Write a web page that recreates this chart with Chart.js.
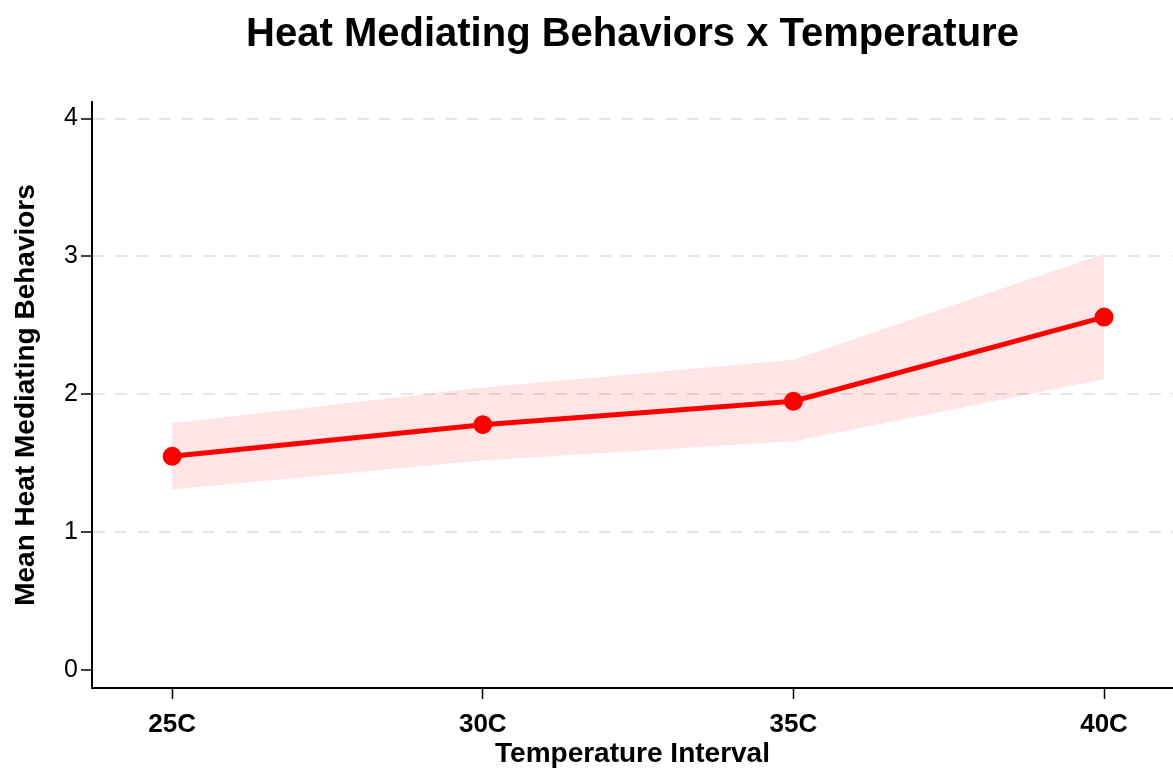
<!DOCTYPE html>
<html>
<head>
<meta charset="utf-8">
<script src="https://cdn.jsdelivr.net/npm/chart.js"></script>
<style>
  body { margin: 0; background: #fff; }
</style>
</head>
<body>
<canvas id="chart" width="1173" height="772"></canvas>
<script>
// data
const temps = [25, 30, 35, 40];
const meanBehaviors = [1.55, 1.78, 1.95, 2.56];
const upperCI = [1.79, 2.05, 2.25, 3.02];
const lowerCI = [1.31, 1.52, 1.66, 2.11];
const yTicks = [0, 1, 2, 3, 4];

const toPoints = arr => arr.map((v, i) => ({ x: temps[i], y: v }));
const sans = "'Liberation Sans', Arial, sans-serif";

const chart = new Chart(document.getElementById("chart"), {
  type: "line",
  data: {
    datasets: [
      {
        label: "Mean",
        data: toPoints(meanBehaviors),
        borderColor: "#ff0000",
        backgroundColor: "#ff0000",
        borderWidth: 5,
        pointRadius: 7,
        pointHoverRadius: 7,
        fill: false,
        order: 0,
      },
      {
        label: "Upper",
        data: toPoints(upperCI),
        borderWidth: 0,
        pointRadius: 0,
        backgroundColor: "rgba(255,0,0,0.1)",
        fill: "+1",
        order: 1,
      },
      {
        label: "Lower",
        data: toPoints(lowerCI),
        borderWidth: 0,
        pointRadius: 0,
        fill: false,
        order: 2,
      },
    ],
  },
  options: {
    responsive: false,
    animation: false,
    devicePixelRatio: 1,
    layout: { padding: 0, autoPadding: false },
    plugins: {
      legend: { display: false },
      tooltip: { enabled: false },
      title: {
        display: true,
        text: "Heat Mediating Behaviors x Temperature",
        color: "#000",
        fullSize: false,
        font: { family: sans, size: 40, weight: "bold" },
        padding: { top: 11, bottom: 43 },
      },
    },
    scales: {
      x: {
        type: "linear",
        min: 23.71,
        max: 41.11,
        afterBuildTicks: scale => {
          scale.ticks = temps.map(v => ({ value: v }));
        },
        afterFit: scale => {
          scale.height = 84;
          scale.paddingLeft = 0;
          scale.paddingRight = 0;
        },
        ticks: {
          color: "#000",
          font: { family: sans, size: 26, weight: "bold" },
          padding: 10,
          maxRotation: 0,
          callback: v => v + "C",
        },
        grid: {
          drawOnChartArea: false,
          drawTicks: true,
          tickLength: 11,
          tickColor: "#000",
          tickWidth: 1.5,
        },
        border: { display: true, color: "#000", width: 2 },
        title: {
          display: true,
          text: "Temperature Interval",
          color: "#000",
          font: { family: sans, size: 28, weight: "bold" },
          padding: { top: 0, bottom: 1 },
        },
      },
      y: {
        min: -0.13,
        max: 4.12,
        afterBuildTicks: scale => {
          scale.ticks = yTicks.map(v => ({ value: v }));
        },
        afterFit: scale => {
          scale.width = 92;
        },
        ticks: {
          color: "#000",
          font: { family: sans, size: 25 },
          padding: 3,
        },
        grid: {
          color: ctx => (ctx.tick && ctx.tick.value === 0 ? "rgba(0,0,0,0)" : "#e6e6e6"),
          lineWidth: 2,
          drawTicks: true,
          tickLength: 11,
          tickColor: "#000",
          tickWidth: 1.5,
        },
        border: { display: true, color: "#000", width: 2, dash: [12, 10] },
        title: {
          display: true,
          text: "Mean Heat Mediating Behaviors",
          color: "#000",
          font: { family: sans, size: 28, weight: "bold" },
          padding: { top: 9, bottom: 4 },
        },
      },
    },
  },
});
</script>
</body>
</html>
